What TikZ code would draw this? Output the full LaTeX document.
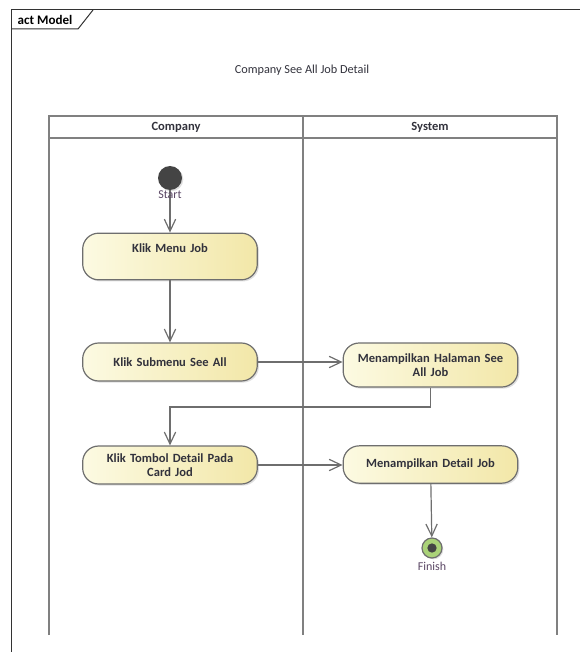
\documentclass[tikz,border=0pt]{standalone}
\usepackage{fontspec}
\setmainfont{Carlito}
\usetikzlibrary{arrows.meta,shadows}

\definecolor{lineGray}{RGB}{110,110,110}
\definecolor{laneGray}{RGB}{128,128,128}
\definecolor{textDark}{RGB}{50,50,60}
\definecolor{labelPurple}{RGB}{90,70,100}
\definecolor{fillLight}{RGB}{252,250,226}
\definecolor{fillDark}{RGB}{242,231,168}
\definecolor{finishGreen}{RGB}{170,210,120}
\definecolor{startDark}{RGB}{68,68,68}

\tikzset{every picture/.style={line width=0.75pt}}
\tikzset{
  action/.style={draw=lineGray, line width=0.9pt, rounded corners=12pt,
    left color=fillLight, right color=fillDark, text=textDark,
    font=\fontsize{9.4}{11}\selectfont\bfseries, align=center,
    minimum width=131pt, text width=122pt,
    drop shadow={shadow xshift=1.2pt, shadow yshift=-1.2pt, opacity=0.25}},
  flow/.style={draw=lineGray, line width=0.9pt,
    -{Straight Barb[length=9pt,width=8.5pt]}},
  lane/.style={draw=laneGray, line width=1.4pt},
  lanetitle/.style={font=\fontsize{9.4}{11}\selectfont\bfseries, text=textDark},
  pointlabel/.style={font=\fontsize{9}{10}\selectfont, text=labelPurple}
}

\begin{document}
\begin{tikzpicture}[x=0.75pt,y=0.75pt,yscale=-1,xscale=1]
	\useasboundingbox (0,0) rectangle (580,652);

	%Frame
	\draw [color=black!80]  (11,652) -- (11,10) -- (580,10) ;
	\draw [color=black!80]  (11,29) -- (78,29) -- (93,10) ;
	\node [font=\fontsize{9.8}{11}\selectfont\bfseries] (frame) at (45,19.5) {act Model};
	\node [font=\fontsize{9.2}{11}\selectfont, text=textDark] (title) at (302,70) {Company See All Job Detail};

	%Swimlanes
	\draw [lane]  (49,635) -- (49,116) -- (557,116) -- (557,635) ;
	\draw [lane]  (49,138) -- (557,138) ;
	\draw [lane]  (303,116) -- (303,635) ;
	\node [lanetitle] (company) at (176,127) {Company};
	\node [lanetitle] (system) at (430,127) {System};

	%Start and finish
	\node [circle, fill=startDark, minimum size=18pt, inner sep=0pt,
	  drop shadow={shadow xshift=1pt, shadow yshift=-1pt, opacity=0.25}] (start) at (170,178) {};
	\node [circle, draw=lineGray, fill=finishGreen, minimum size=15pt, inner sep=0pt, line width=0.9pt,
	  drop shadow={shadow xshift=1pt, shadow yshift=-1pt, opacity=0.25}] (finish) at (432,548) {};
	\node [circle, fill=startDark, minimum size=7pt, inner sep=0pt] (finishdot) at (finish) {};

	%Actions
	\node [action, minimum height=35pt, text depth=12pt] (menu) at (170,256.5) {Klik Menu Job};
	\node [action, minimum height=28.5pt] (submenu) at (170,362) {Klik Submenu See All};
	\node [action, minimum height=33pt] (halaman) at (430.5,365) {Menampilkan Halaman See\\All Job};
	\node [action, minimum height=28.5pt] (tombol) at (170,465) {Klik Tombol Detail Pada\\Card Jod};
	\node [action, minimum height=28pt] (detail) at (430.5,464.5) {Menampilkan Detail Job};

	\coordinate (bend) at (170,407);

	%Flows
	\draw [flow]  (start) -- (menu) ;
	\draw [flow]  (menu) -- (submenu) ;
	\draw [flow]  (submenu) -- (halaman.west |- submenu) ;
	\draw [flow]  (halaman.south) |- (bend) -- (tombol.north) ;
	\draw [flow]  (tombol) -- (detail.west |- tombol) ;
	\draw [flow]  (detail) -- (finish) ;

	% Text Node
	\node [pointlabel] (startlabel) at (170,195) {Start};
	% Text Node
	\node [pointlabel] (finishlabel) at (432,566) {Finish};

\end{tikzpicture}
\end{document}
